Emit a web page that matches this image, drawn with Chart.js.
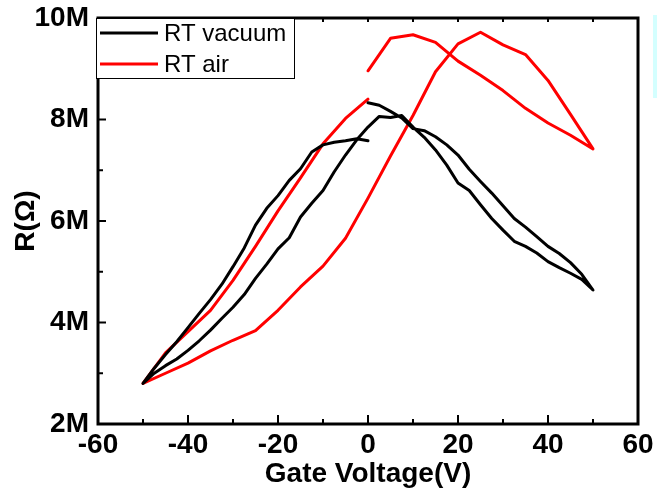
<!DOCTYPE html>
<html>
<head>
<meta charset="utf-8">
<script src="https://cdn.jsdelivr.net/npm/chart.js@4/dist/chart.umd.min.js"></script>
<style>
  body { margin: 0; background: #fff; }
  #wrap { position: relative; width: 657px; height: 499px; }
  #side { position: absolute; left: 653px; top: 15px; width: 4px; height: 83px; background: #d4ffff; }
</style>
</head>
<body>
<div id="wrap">
  <canvas id="rChart" width="657" height="499"></canvas>
  <div id="side"></div>
</div>
<script>
// RT vacuum: 0 -> 50 -> -50 -> 0 (V, MOhm)
const vacV = [0, 2.5, 5, 7.5, 10, 12.5, 15, 17.5, 20, 22.5, 25, 27.5, 30, 32.5, 35, 37.5, 40, 42.5, 45, 47.5, 50,
  47.5, 45, 42.5, 40, 37.5, 35, 32.5, 30, 27.5, 25, 22.5, 20, 17.5, 15, 12.5, 10, 7.5, 5, 2.5, 0,
  -2.5, -5, -7.5, -10, -12.5, -15, -17.5, -20, -22.5, -25, -27.5, -30, -32.5, -35, -37.5, -40, -42.5, -45, -47.5, -50,
  -47.5, -45, -42.5, -40, -37.5, -35, -32.5, -30, -27.5, -25, -22.5, -20, -17.5, -15, -12.5, -10, -7.5, -5, -2.5, 0];
const vacR = [8.33, 8.28, 8.16, 8.03, 7.82, 7.78, 7.66, 7.5, 7.3, 7.02, 6.78, 6.55, 6.3, 6.05, 5.88, 5.69, 5.5, 5.36, 5.18, 4.95, 4.64,
  4.85, 4.97, 5.08, 5.2, 5.37, 5.5, 5.6, 5.82, 6.05, 6.32, 6.6, 6.75, 7.1, 7.4, 7.65, 7.85, 8.08, 8.04, 8.06, 7.85,
  7.6, 7.3, 6.97, 6.6, 6.35, 6.08, 5.67, 5.45, 5.15, 4.87, 4.55, 4.3, 4.08, 3.85, 3.64, 3.45, 3.28, 3.15, 3.0, 2.8,
  3.1, 3.37, 3.62, 3.9, 4.18, 4.45, 4.75, 5.1, 5.47, 5.92, 6.25, 6.5, 6.8, 7.03, 7.36, 7.5, 7.55, 7.58, 7.62, 7.58];

// RT air: 0 -> 50 -> -50 -> 0 (V, MOhm)
const airV = [0, 5, 10, 15, 20, 25, 30, 35, 40, 45, 50,
  45, 40, 35, 30, 25, 20, 15, 10, 5, 0, -5, -10, -15, -20, -25, -30, -35, -40, -45, -50,
  -45, -40, -35, -30, -25, -20, -15, -10, -5, 0];
const airR = [8.96, 9.6, 9.67, 9.52, 9.15, 8.87, 8.57, 8.22, 7.93, 7.69, 7.42,
  8.1, 8.77, 9.28, 9.47, 9.72, 9.49, 8.94, 8.08, 7.28, 6.45, 5.66, 5.11, 4.7, 4.24, 3.84, 3.65, 3.44, 3.2, 3.0, 2.8,
  3.4, 3.82, 4.24, 4.83, 5.5, 6.2, 6.85, 7.52, 8.02, 8.4];

const xTicks = [-60, -40, -20, 0, 20, 40, 60];
const yTicks = [2, 4, 6, 8, 10];
const yLabels = ['2M', '4M', '6M', '8M', '10M'];

const toPoints = (xs, ys) => xs.map((v, i) => ({ x: v, y: ys[i] }));

const FONT = '"Liberation Sans", Arial, sans-serif';

// frame, inward ticks and legend box
const framePlugin = {
  id: 'frame',
  afterDraw(chart) {
    const { ctx, chartArea: a, scales } = chart;
    const x = scales.x, y = scales.y;
    const line = (x1, y1, x2, y2) => { ctx.beginPath(); ctx.moveTo(x1, y1); ctx.lineTo(x2, y2); ctx.stroke(); };
    ctx.save();
    ctx.strokeStyle = '#000';
    ctx.lineWidth = 2;
    for (let v = -60; v <= 60; v += 10) {
      const px = x.getPixelForValue(v);
      line(px, a.bottom, px, a.bottom - (v % 20 === 0 ? 9 : 5));
      line(px, a.top, px, a.top + 4);
    }
    for (let v = 2; v <= 10; v++) {
      const py = y.getPixelForValue(v);
      line(a.left, py, a.left + (v % 2 === 0 ? 8 : 5), py);
    }
    ctx.lineWidth = 3;
    ctx.strokeRect(a.left, a.top, a.right - a.left, a.bottom - a.top);

    // legend
    const lx = a.left - 2, ly = a.top, lw = 198, lh = 60;
    ctx.fillStyle = '#fff';
    ctx.fillRect(lx, ly, lw, lh);
    ctx.lineWidth = 1;
    ctx.strokeRect(lx + 0.5, ly + 0.5, lw, lh);
    ctx.font = '24px ' + FONT;
    ctx.textBaseline = 'middle';
    chart.data.datasets.forEach((ds, i) => {
      const cy = ly + 15 + i * 31;
      ctx.strokeStyle = ds.borderColor;
      ctx.lineWidth = 3;
      line(lx + 4, cy, lx + 62, cy);
      ctx.fillStyle = '#000';
      ctx.fillText(ds.label, lx + 68, cy + 1);
    });
    ctx.restore();
  }
};

new Chart(document.getElementById('rChart'), {
  type: 'scatter',
  data: {
    datasets: [
      { label: 'RT vacuum', data: toPoints(vacV, vacR), borderColor: '#000000', backgroundColor: '#000000',
        showLine: true, borderWidth: 3, pointRadius: 0, tension: 0, borderJoinStyle: 'round', borderCapStyle: 'round' },
      { label: 'RT air', data: toPoints(airV, airR), borderColor: '#ff0000', backgroundColor: '#ff0000',
        showLine: true, borderWidth: 3, pointRadius: 0, tension: 0, borderJoinStyle: 'round', borderCapStyle: 'round' }
    ]
  },
  options: {
    responsive: false,
    animation: false,
    layout: { padding: { top: 18, right: 19, left: 0, bottom: 0 } },
    plugins: { legend: { display: false }, tooltip: { enabled: false } },
    scales: {
      x: {
        type: 'linear', min: -60, max: 60,
        afterFit: (s) => { s.height = 75; s.paddingLeft = 0; s.paddingRight = 0; },
        afterBuildTicks: (s) => { s.ticks = xTicks.map(v => ({ value: v })); },
        grid: { display: false, drawTicks: false },
        border: { display: false },
        ticks: { padding: 4, color: '#000', font: { family: FONT, size: 28, weight: 'bold' }, maxRotation: 0 },
        title: { display: true, text: 'Gate Voltage(V)', color: '#000', padding: { top: 0, bottom: 8 },
          font: { family: FONT, size: 28, weight: 'bold' } }
      },
      y: {
        type: 'linear', min: 2, max: 10,
        afterFit: (s) => { s.width = 98; s.paddingTop = 0; s.paddingBottom = 0; },
        afterBuildTicks: (s) => { s.ticks = yTicks.map(v => ({ value: v })); },
        grid: { display: false, drawTicks: false },
        border: { display: false },
        ticks: { padding: 9, color: '#000', font: { family: FONT, size: 28, weight: 'bold' },
          callback: (v) => yLabels[yTicks.indexOf(v)] },
        title: { display: true, text: 'R(Ω)', color: '#000', padding: { top: 9, bottom: 0 },
          font: { family: FONT, size: 28, weight: 'bold' } }
      }
    }
  },
  plugins: [framePlugin]
});
</script>
</body>
</html>
